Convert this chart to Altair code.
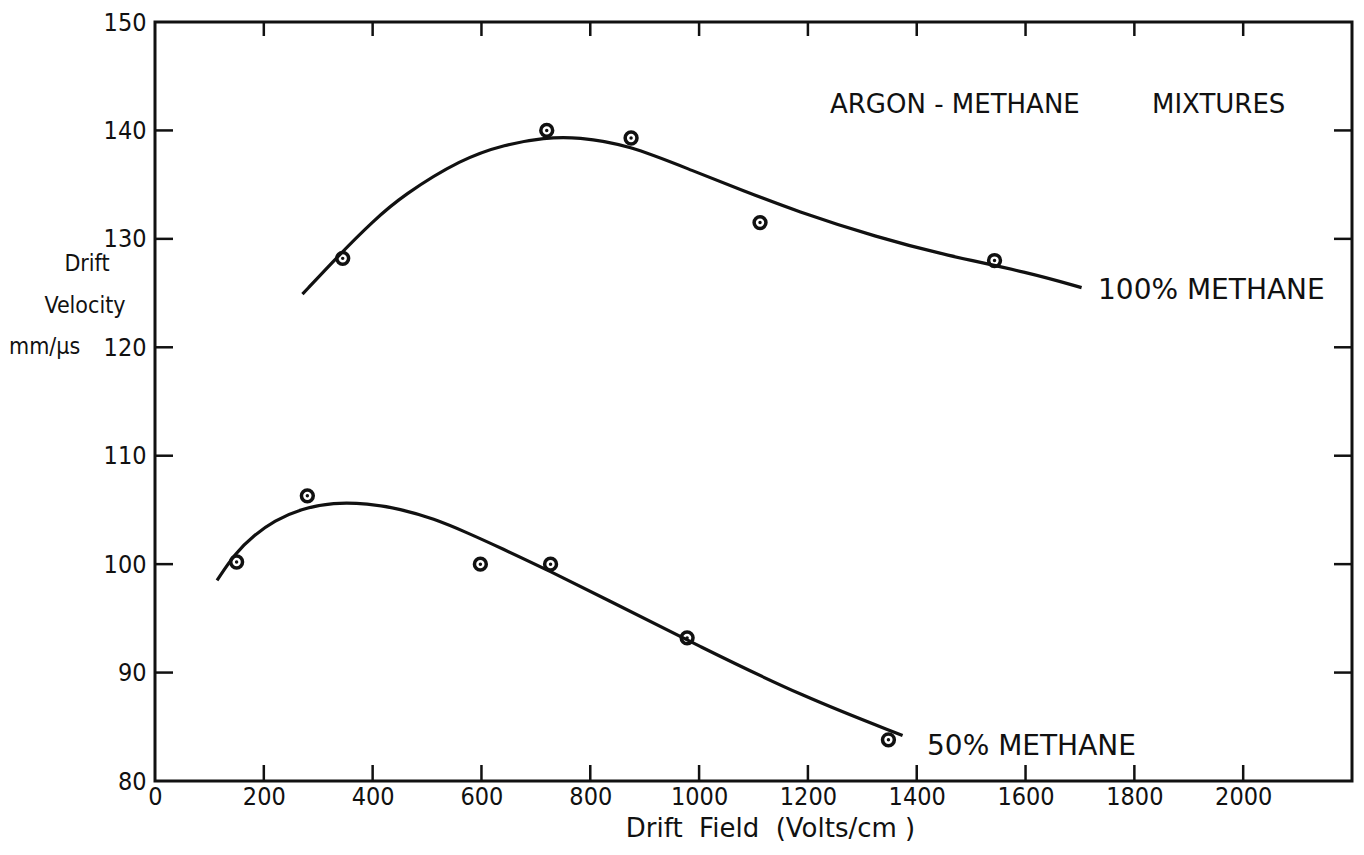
import altair as alt
import pandas as pd

# ---- data ----
# measured points, 100% methane
m100_field = [345, 720, 875, 1112, 1543]
m100_vel = [128.2, 140.0, 139.3, 131.5, 128.0]
# hand-drawn curve, 100% methane
c100_field = [271, 340, 400, 455, 564, 643, 716, 777, 869, 992, 1084, 1176, 1330, 1452, 1606, 1703]
c100_vel = [124.9, 128.6, 131.6, 134.0, 137.4, 138.7, 139.35, 139.4, 138.7, 136.2, 134.4, 132.6, 130.1, 128.5, 126.9, 125.5]
# measured points, 50% methane
m50_field = [150, 280, 598, 727, 978, 1348]
m50_vel = [100.2, 106.3, 100.0, 100.0, 93.2, 83.8]
# hand-drawn curve, 50% methane
c50_field = [114, 147, 183, 219, 268, 328, 390, 451, 512, 574, 635, 728, 820, 1005, 1190, 1374]
c50_vel = [98.5, 101.0, 102.7, 104.0, 105.1, 105.7, 105.6, 105.1, 104.2, 102.9, 101.5, 99.3, 97.0, 92.3, 87.8, 84.2]

x_labels = [0, 200, 400, 600, 800, 1000, 1200, 1400, 1600, 1800, 2000]
y_labels = [80, 90, 100, 110, 120, 130, 140, 150]
x_inner_ticks = [200, 400, 600, 800, 1000, 1200, 1400, 1600, 1800, 2000]
y_inner_ticks = [90, 100, 110, 120, 130, 140]

title_text = ["ARGON - METHANE"]
title_text2 = ["MIXTURES"]
lab100 = ["100% METHANE"]
lab50 = ["50% METHANE"]
ytitle = ["Drift", "Velocity", "mm/\u00b5s"]
xtitle = "Drift\u00a0\u00a0Field\u00a0\u00a0(Volts/cm )"

W, H = 1197, 759
INK = "#111111"
FONT = "DejaVu Sans"
FONTC = "DejaVu Sans Condensed, DejaVu Sans, sans-serif"

xs = alt.Scale(domain=[0, 2200], nice=False, zero=False)
ys = alt.Scale(domain=[80, 150], nice=False, zero=False)

xaxis = alt.Axis(values=x_labels, format="d", ticks=False, tickSize=0, domain=False, grid=False,
                 labelFont=FONTC, labelFontSize=25, labelColor=INK, labelPadding=3,
                 labelFlush=False, title=xtitle, titleFont=FONT, titleFontSize=26,
                 titleFontWeight="normal", titleColor=INK, titlePadding=6, titleX=615)
yaxis = alt.Axis(values=y_labels, format="d", ticks=False, tickSize=0, domain=False, grid=False,
                 labelFont=FONTC, labelFontSize=25, labelColor=INK, labelPadding=9,
                 labelFlush=False, title=None)

df100 = pd.DataFrame({"f": m100_field, "v": m100_vel})
dc100 = pd.DataFrame({"f": c100_field, "v": c100_vel})
df50 = pd.DataFrame({"f": m50_field, "v": m50_vel})
dc50 = pd.DataFrame({"f": c50_field, "v": c50_vel})

base_axes = alt.Chart(dc100).mark_line(strokeWidth=3.2, color=INK, interpolate="basis").encode(
    x=alt.X("f:Q", scale=xs, axis=xaxis),
    y=alt.Y("v:Q", scale=ys, axis=yaxis),
)
curve50 = alt.Chart(dc50).mark_line(strokeWidth=3.2, color=INK, interpolate="basis").encode(
    x=alt.X("f:Q", scale=xs), y=alt.Y("v:Q", scale=ys))

def pts(df):
    ring = alt.Chart(df).mark_point(shape="circle", filled=False, size=140, strokeWidth=3.5,
                                    color=INK, opacity=1).encode(
        x=alt.X("f:Q", scale=xs), y=alt.Y("v:Q", scale=ys))
    dot = alt.Chart(df).mark_point(shape="circle", filled=True, size=12, color=INK,
                                   opacity=1).encode(
        x=alt.X("f:Q", scale=xs), y=alt.Y("v:Q", scale=ys))
    return ring + dot

# inward ticks on all four sides
tx = pd.DataFrame({"t": x_inner_ticks})
ty = pd.DataFrame({"t": y_inner_ticks})
tick_bottom = alt.Chart(tx).mark_rule(strokeWidth=2.5, color=INK).encode(
    x=alt.X("t:Q", scale=xs), y=alt.value(H), y2=alt.value(H - 16))
tick_top = alt.Chart(tx).mark_rule(strokeWidth=2.5, color=INK).encode(
    x=alt.X("t:Q", scale=xs), y=alt.value(0), y2=alt.value(14))
tick_left = alt.Chart(ty).mark_rule(strokeWidth=2.5, color=INK).encode(
    y=alt.Y("t:Q", scale=ys), x=alt.value(0), x2=alt.value(18))
tick_right = alt.Chart(ty).mark_rule(strokeWidth=2.5, color=INK).encode(
    y=alt.Y("t:Q", scale=ys), x=alt.value(W), x2=alt.value(W - 18))

def label(texts, x, y, size, align="left", font=FONT):
    return alt.Chart(pd.DataFrame({"t": texts})).mark_text(
        align=align, baseline="middle", font=font, fontSize=size, color=INK).encode(
        x=alt.value(x), y=alt.value(y), text="t:N")

t1 = label(title_text, 675, 83, 26)
t2 = label(title_text2, 997, 83, 26)
l100 = label(lab100, 943, 269, 28)
l50 = label(lab50, 772, 725, 28)
yt1 = label([ytitle[0]], -68, 242, 23, "center", FONTC)
yt2 = label([ytitle[1]], -70, 284, 23, "center", FONTC)
yt3 = label([ytitle[2]], -146, 325, 23, "left", FONTC)

chart = alt.layer(
    base_axes, curve50, pts(df100), pts(df50),
    tick_bottom, tick_top, tick_left, tick_right,
    t1, t2, l100, l50, yt1, yt2, yt3,
).properties(
    width=W, height=H,
    autosize=alt.AutoSizeParams(type="none"),
    padding={"left": 147, "top": 14, "right": 4, "bottom": 70},
    background="white",
).configure_view(stroke=INK, strokeWidth=3)

chart.save("out.html", embed_options={"renderer": "svg", "actions": False})
